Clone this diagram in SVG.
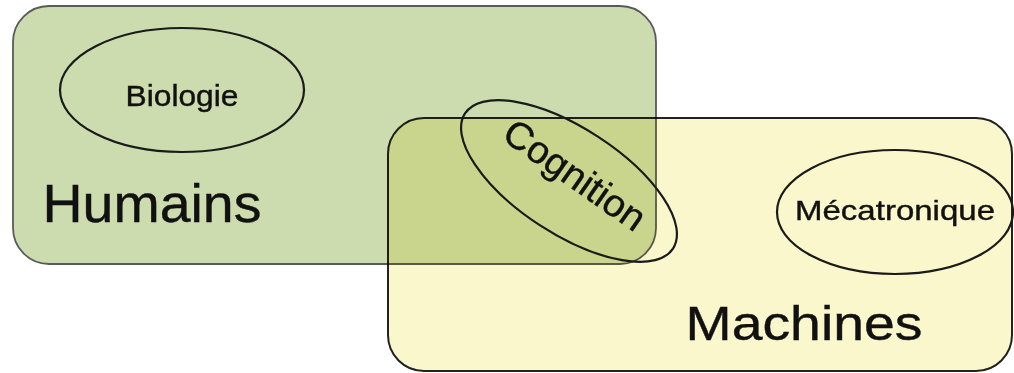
<svg xmlns="http://www.w3.org/2000/svg" width="1014" height="373" viewBox="0 0 1014 373">
<style>
.lbl{font-family:"Liberation Sans",Arial,sans-serif;fill:#111;stroke:#111;stroke-width:0.4;text-anchor:middle}
.ell{fill:none;stroke:#1a1a1a;stroke-width:2.2}
</style>
<rect width="1014" height="373" fill="#ffffff"/>
<g id="machines">
<rect x="388" y="118" width="624" height="253" rx="36" fill="#faf7cd" stroke="#222" stroke-width="2"/>
</g>
<g id="humains" style="mix-blend-mode:multiply">
<rect x="13" y="6" width="643" height="258" rx="36" fill="#cddcae" stroke="#5a5a5a" stroke-width="1.8"/>
</g>
<g id="biologie">
<ellipse class="ell" cx="182" cy="90" rx="122" ry="62"/>
<text class="lbl" x="182" y="106" font-size="29" textLength="113" lengthAdjust="spacingAndGlyphs">Biologie</text>
</g>
<g id="mecatronique">
<ellipse class="ell" cx="895" cy="212" rx="118" ry="62"/>
<text class="lbl" x="895" y="220" font-size="28" textLength="200" lengthAdjust="spacingAndGlyphs">Mécatronique</text>
</g>
<g id="cognition">
<ellipse class="ell" cx="0" cy="0" rx="124" ry="53" transform="translate(569,181) rotate(33)"/>
<text class="lbl" x="0" y="13" font-size="38" textLength="164" lengthAdjust="spacingAndGlyphs" transform="translate(575,175) rotate(35)">Cognition</text>
</g>
<g id="titles">
<text class="lbl" x="152" y="222" font-size="53" textLength="219" lengthAdjust="spacingAndGlyphs">Humains</text>
<text class="lbl" x="804" y="340" font-size="49" textLength="237" lengthAdjust="spacingAndGlyphs">Machines</text>
</g>
<g id="connectors"/>
</svg>
